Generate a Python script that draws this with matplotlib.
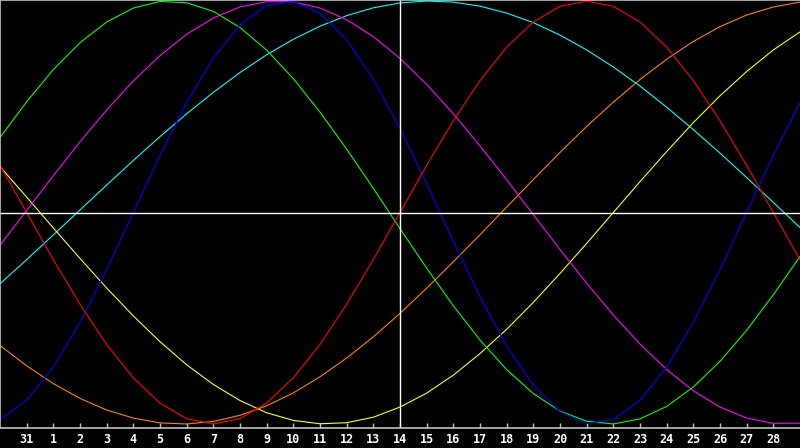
import numpy as np
import matplotlib
matplotlib.use("Agg")
import matplotlib.pyplot as plt

# day slots across the chart (0 = previous month 30th, 30 = month 29th)
slots = list(range(31))
tick_slots = list(range(1, 30))
tick_labels = ['31'] + [str(d) for d in range(1, 29)]

# cycle values, one per day
physical = [-0.979, -0.888, -0.731, -0.520, -0.270, 0.0, 0.270, 0.520, 0.731, 0.888,
            0.979, 0.998, 0.942, 0.817, 0.631, 0.398, 0.136, -0.136, -0.398, -0.631,
            -0.817, -0.942, -0.998, -0.979, -0.888, -0.731, -0.520, -0.270, 0.0, 0.270, 0.520]
emotional = [0.223, 0.0, -0.223, -0.434, -0.624, -0.782, -0.901, -0.975, -1.0, -0.975,
             -0.901, -0.782, -0.624, -0.434, -0.223, 0.0, 0.223, 0.434, 0.624, 0.782,
             0.901, 0.975, 1.0, 0.975, 0.901, 0.782, 0.624, 0.434, 0.223, 0.0, -0.223]
intellectual = [0.354, 0.524, 0.676, 0.803, 0.901, 0.967, 0.998, 0.992, 0.951, 0.875,
                0.768, 0.633, 0.475, 0.300, 0.114, -0.076, -0.263, -0.441, -0.603, -0.743,
                -0.856, -0.939, -0.987, -1.0, -0.976, -0.917, -0.825, -0.704, -0.557, -0.389, -0.208]
intuitive = [-0.155, 0.010, 0.174, 0.334, 0.485, 0.622, 0.742, 0.843, 0.920, 0.972,
             0.997, 0.996, 0.967, 0.912, 0.832, 0.729, 0.606, 0.467, 0.315, 0.155,
             -0.010, -0.175, -0.334, -0.485, -0.622, -0.743, -0.843, -0.920, -0.972, -0.997, -0.996]
aesthetic = [0.217, 0.073, -0.073, -0.217, -0.357, -0.489, -0.611, -0.720, -0.813, -0.889,
             -0.947, -0.983, -0.999, -0.994, -0.968, -0.920, -0.854, -0.769, -0.667, -0.552,
             -0.425, -0.288, -0.146, 0.0, 0.146, 0.288, 0.425, 0.552, 0.667, 0.769, 0.854]
spiritual = [-0.337, -0.223, -0.106, 0.012, 0.130, 0.246, 0.359, 0.467, 0.568, 0.662,
             0.746, 0.819, 0.881, 0.931, 0.968, 0.991, 1.0, 0.995, 0.976, 0.943,
             0.898, 0.839, 0.769, 0.688, 0.598, 0.498, 0.392, 0.281, 0.165, 0.048, -0.071]
awareness = [-0.629, -0.725, -0.809, -0.879, -0.934, -0.972, -0.995, -1.0, -0.988, -0.959,
             -0.914, -0.853, -0.777, -0.688, -0.588, -0.477, -0.358, -0.233, -0.105, 0.026,
             0.156, 0.284, 0.407, 0.522, 0.629, 0.725, 0.809, 0.879, 0.934, 0.972, 0.995]

today = 15

fig = plt.figure(figsize=(8, 4.48), dpi=100, facecolor='black')
ax = fig.add_axes([0, 20 / 448, 1, 428 / 448], facecolor='black')

lw = 0.8
ax.plot(slots, awareness, color='#ff8000', lw=lw)
ax.plot(slots, spiritual, color='#00ffff', lw=lw)
ax.plot(slots, aesthetic, color='#ffff00', lw=lw)
ax.plot(slots, intuitive, color='#ff00ff', lw=lw)
ax.plot(slots, intellectual, color='#00ff00', lw=lw)
ax.plot(slots, physical, color='#0000ff', lw=lw)
ax.plot(slots, emotional, color='#ff0000', lw=lw)

ax.axhline(0, color='white', lw=1.0)
ax.axvline(today, color='white', lw=1.0)

ax.set_xlim(0, 30)
ax.set_ylim(-1.019, 1.005)

ax.set_xticks(tick_slots)
ax.set_xticklabels(tick_labels, fontfamily='DejaVu Sans Mono', fontweight='bold', fontsize=8.5, color='white')
ax.set_yticks([])
ax.tick_params(axis='x', direction='in', length=3.6, width=1, color='#c0c0c0', pad=3.5)

for side in ['left', 'top', 'bottom']:
    ax.spines[side].set_color('#c0c0c0')
    ax.spines[side].set_linewidth(1.2)
ax.spines['right'].set_visible(False)

fig.savefig('out.png', dpi=100, facecolor='black')
